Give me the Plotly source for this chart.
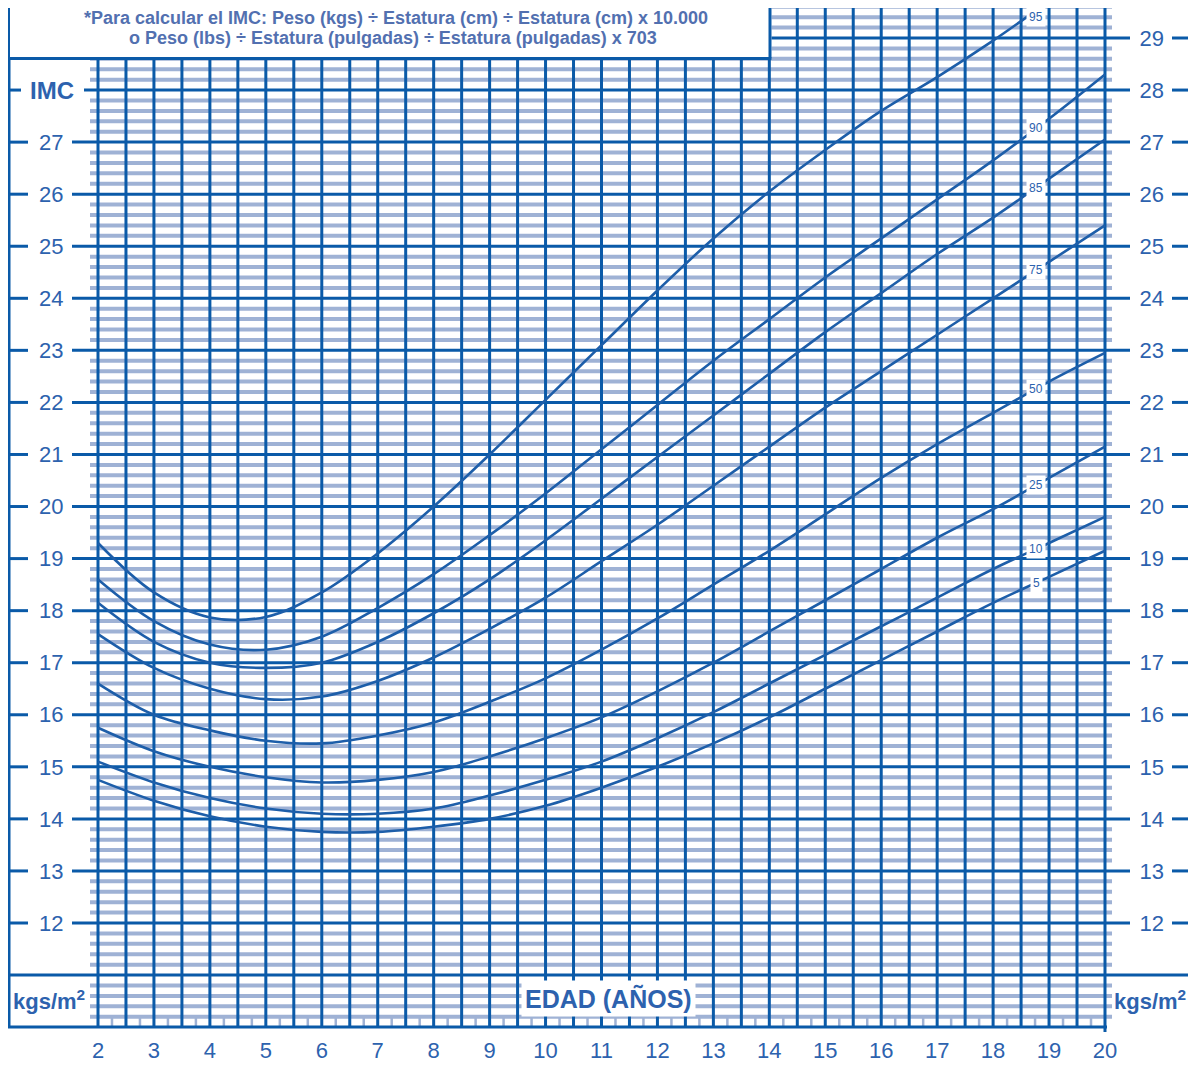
import numpy as np
import plotly.graph_objects as go

# ---------------- data ----------------
AGES = list(range(2, 21))
P5 = [14.75, 14.35, 14.05, 13.85, 13.75, 13.75, 13.85, 14.0, 14.25, 14.6, 15.0, 15.45, 15.95, 16.5, 17.05, 17.6, 18.15, 18.65, 19.15]
P10 = [15.1, 14.7, 14.4, 14.2, 14.1, 14.1, 14.2, 14.45, 14.75, 15.1, 15.55, 16.05, 16.6, 17.15, 17.7, 18.25, 18.8, 19.3, 19.8]
P25 = [15.75, 15.3, 15.0, 14.8, 14.7, 14.75, 14.9, 15.2, 15.55, 15.95, 16.45, 17.0, 17.6, 18.2, 18.8, 19.4, 19.95, 20.55, 21.15]
P50 = [16.6, 16.0, 15.7, 15.5, 15.45, 15.6, 15.85, 16.25, 16.7, 17.25, 17.85, 18.5, 19.15, 19.85, 20.55, 21.2, 21.8, 22.4, 22.95]
P75 = [17.55, 16.9, 16.5, 16.3, 16.35, 16.65, 17.1, 17.65, 18.25, 18.95, 19.65, 20.4, 21.15, 21.9, 22.6, 23.3, 24.0, 24.7, 25.4]
P85 = [18.15, 17.4, 17.0, 16.9, 17.0, 17.4, 17.95, 18.6, 19.35, 20.15, 20.95, 21.75, 22.55, 23.35, 24.1, 24.85, 25.55, 26.3, 27.05]
P90 = [18.6, 17.8, 17.35, 17.25, 17.5, 18.05, 18.7, 19.45, 20.25, 21.1, 21.95, 22.8, 23.6, 24.4, 25.15, 25.9, 26.65, 27.45, 28.3]
P95 = [19.3, 18.35, 17.87, 17.88, 18.35, 19.1, 20.0, 21.0, 22.05, 23.1, 24.15, 25.15, 26.05, 26.85, 27.6, 28.25, 28.95, 29.7, 30.4]
PERCENTILE_NAMES = ["5", "10", "25", "50", "75", "85", "90", "95"]

X_TICKS = list(range(2, 21))
Y_TICKS_LEFT = list(range(12, 28))
Y_TICKS_RIGHT = list(range(12, 30))

HEADER_1 = "*Para calcular el IMC: Peso (kgs) ÷ Estatura (cm) ÷ Estatura (cm) x 10.000"
HEADER_2 = "o Peso (lbs) ÷ Estatura (pulgadas) ÷ Estatura (pulgadas) x 703"

# ---------------- styling / layout helpers ----------------
# the page body adds an 8 px margin, so the figure occupies window pixels 8..1196 / 8..1065
OFF = 8
W, H = 1196 - OFF, 1065 - OFF
PX_YR = 55.944
PX_BMI = 52.059
def ax(px):  # window pixel -> age
    return 2 + (px - 98) / PX_YR
def ay(py):  # window pixel -> BMI
    return 29 - (py - 38) / PX_BMI

DARK = "#0a5aa8"
LIGHT = "#9fb2d5"
CURVE = "#1d5ea9"
TXT = "#2d62ae"
FONT = "Liberation Sans, Arial, sans-serif"

series = [P5, P10, P25, P50, P75, P85, P90, P95]

fig = go.Figure()
for name, vals in zip(PERCENTILE_NAMES, series):
    fig.add_trace(go.Scatter(x=AGES, y=vals, mode="lines", name=name,
                             line=dict(color=CURVE, width=2.6, shape="spline", smoothing=1.0),
                             showlegend=False, hoverinfo="skip"))
fig.add_trace(go.Scatter(x=[ax(600)], y=[ay(600)], yaxis="y2", mode="markers",
                         marker=dict(size=1, opacity=0), showlegend=False, hoverinfo="skip"))

shapes = []
def hline(y, x0, x1, color=DARK, width=3):
    shapes.append(dict(type="line", x0=x0, x1=x1, y0=y, y1=y, layer="below",
                       line=dict(color=color, width=width)))
def vline(x, y0, y1, color=DARK, width=3):
    shapes.append(dict(type="line", x0=x, x1=x, y0=y0, y1=y1, layer="below",
                       line=dict(color=color, width=width)))

# minor horizontal grid every 0.2
for k in range(51, 149):
    if k % 5 == 0:
        continue
    hline(k * 0.2, ax(90), ax(1112), LIGHT, 4)

# vertical grid every half year
for k in range(4, 41):
    vline(k * 0.5, 10, ay(-5))

# quarter-year ticks at bottom
for k in range(9, 80, 2):
    vline(k * 0.25, 10, ay(1018), LIGHT, 2.5)

# integer horizontal lines with label gaps
for v in range(12, 30):
    if v == 28:
        hline(v, ax(8), ax(21))
        hline(v, ax(84), ax(1130))
    else:
        hline(v, ax(8), ax(28))
        hline(v, ax(72), ax(1130))
    hline(v, ax(1172), ax(1200))
hline(11, ax(8), ax(1200))
hline(10, ax(5), ax(1107))
vline(20, ay(1026), ay(1032))

# frame
vline(ax(9), ay(1026), ay(-5))
vline(ax(1194), ay(975), ay(1026))

# header box
shapes.append(dict(type="rect", x0=ax(10), x1=ax(771.5), y0=ay(59.5), y1=ay(-5),
                   fillcolor="white", line=dict(width=0), layer="below"))
hline(ay(58.5), ax(8), ax(771.5))
vline(ax(770), ay(58.5), ay(-5))

fig.update_layout(shapes=shapes)

ann = []
ann.append(dict(x=ax(396), y=ay(18), text="<b>" + HEADER_1 + "</b>", showarrow=False,
                font=dict(family=FONT, size=18, color="#5270b0")))
ann.append(dict(x=ax(393), y=ay(38), text="<b>" + HEADER_2 + "</b>", showarrow=False,
                font=dict(family=FONT, size=18, color="#5270b0")))
ann.append(dict(x=ax(52), y=28, text="<b>IMC</b>", showarrow=False,
                font=dict(family=FONT, size=24, color=TXT)))
ann.append(dict(x=ax(49), y=ay(1000), text="<b>kgs/m<sup>2</sup></b>", showarrow=False,
                font=dict(family=FONT, size=22, color=TXT)))
ann.append(dict(x=ax(1150), y=ay(1000), text="<b>kgs/m<sup>2</sup></b>", showarrow=False,
                font=dict(family=FONT, size=22, color=TXT)))
ann.append(dict(x=ax(608), y=ay(998), text="<b>EDAD (AÑOS)</b>", showarrow=False,
                bgcolor="white", borderpad=3,
                font=dict(family=FONT, size=25, color=TXT)))
lab_age = ax(1036)
for name, vals in zip(PERCENTILE_NAMES, series):
    yv = float(np.interp(lab_age, AGES, vals))
    yv = min(yv, ay(17))
    ann.append(dict(x=lab_age, y=yv, text=name, showarrow=False, bgcolor="white",
                    borderpad=2, font=dict(family=FONT, size=12, color=TXT)))
fig.update_layout(annotations=ann)

tickfont = dict(family=FONT, size=22, color=TXT)
fig.update_layout(
    width=W, height=H,
    margin=dict(l=0, r=0, t=0, b=0),
    paper_bgcolor="white", plot_bgcolor="white",
    xaxis=dict(range=[ax(OFF), ax(OFF + W)], tickvals=X_TICKS, ticktext=[str(v) for v in X_TICKS],
               ticklabelposition="inside", ticks="", showgrid=False, zeroline=False,
               showline=False, tickfont=tickfont, ticklabelstandoff=0, fixedrange=True),
    yaxis=dict(range=[ay(OFF + H), ay(OFF)], tickvals=Y_TICKS_LEFT, ticktext=[str(v) for v in Y_TICKS_LEFT],
               ticklabelposition="inside", ticks="", showgrid=False, zeroline=False,
               showline=False, tickfont=tickfont, ticklabelstandoff=28, fixedrange=True),
    yaxis2=dict(range=[ay(OFF + H), ay(OFF)], overlaying="y", side="right", tickvals=Y_TICKS_RIGHT,
                ticktext=[str(v) for v in Y_TICKS_RIGHT], ticklabelposition="inside", ticks="",
                showgrid=False, zeroline=False, showline=False, tickfont=tickfont,
                ticklabelstandoff=29, fixedrange=True),
)

fig.write_html("out.html")
